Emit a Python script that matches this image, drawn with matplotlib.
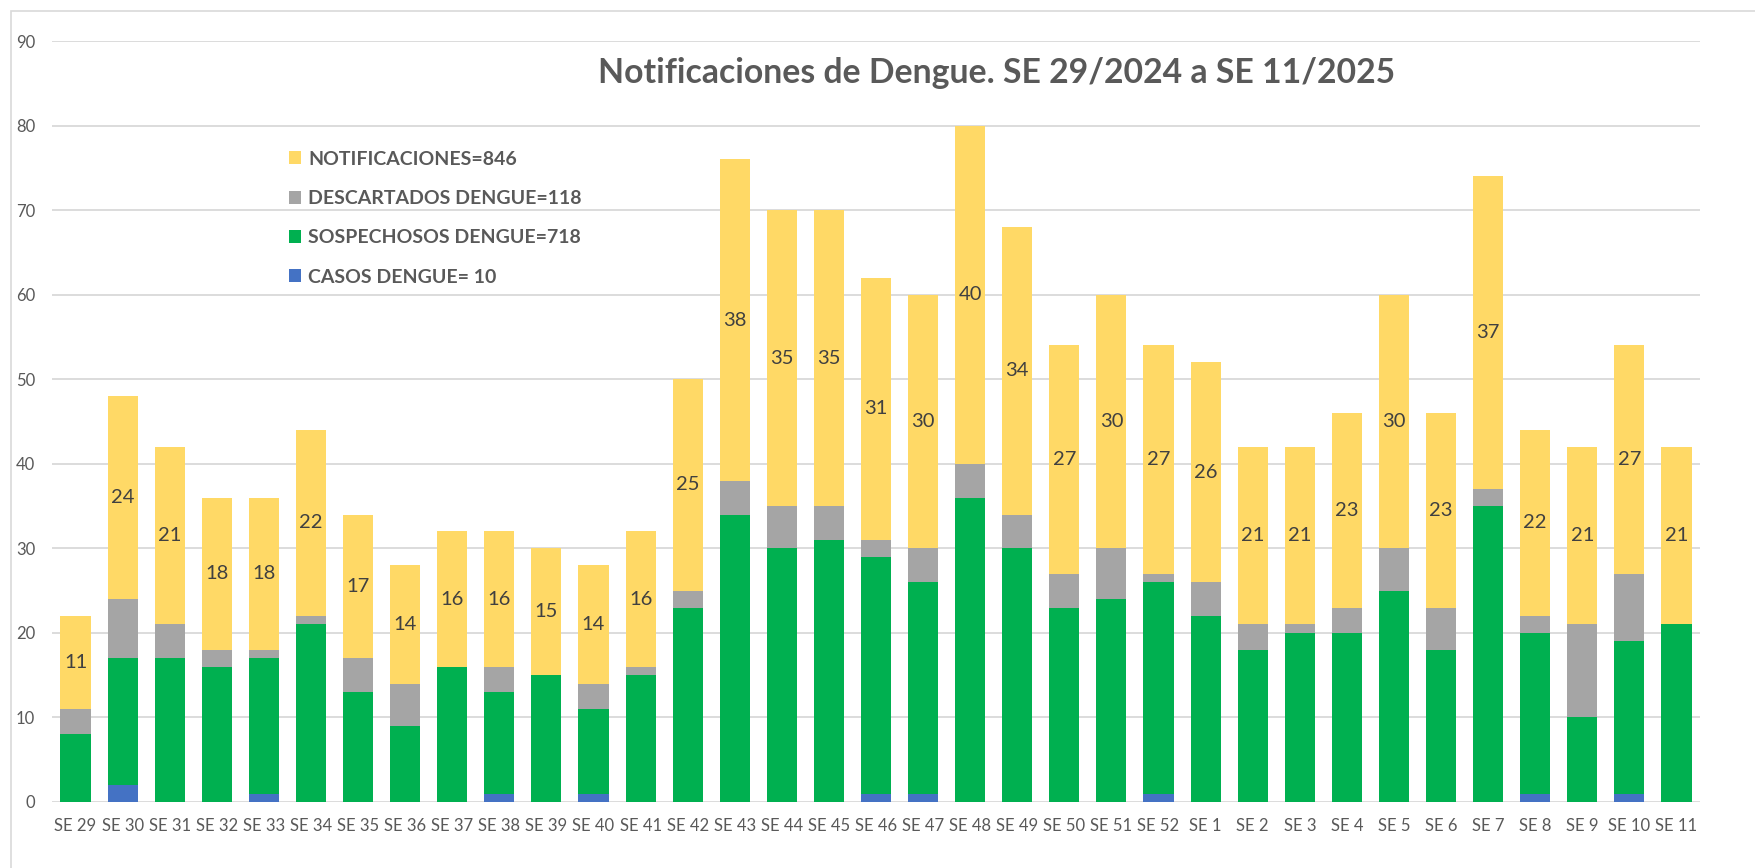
import numpy as np
import matplotlib.pyplot as plt
from matplotlib.patches import Rectangle

plt.rcParams['font.family'] = ['Lato', 'DejaVu Sans']

semanas = ['SE 29', 'SE 30', 'SE 31', 'SE 32', 'SE 33', 'SE 34', 'SE 35', 'SE 36',
           'SE 37', 'SE 38', 'SE 39', 'SE 40', 'SE 41', 'SE 42', 'SE 43', 'SE 44',
           'SE 45', 'SE 46', 'SE 47', 'SE 48', 'SE 49', 'SE 50', 'SE 51', 'SE 52',
           'SE 1', 'SE 2', 'SE 3', 'SE 4', 'SE 5', 'SE 6', 'SE 7', 'SE 8', 'SE 9',
           'SE 10', 'SE 11']
casos = [0, 2, 0, 0, 1, 0, 0, 0, 0, 1, 0, 1, 0, 0, 0, 0, 0, 1, 1, 0, 0, 0, 0, 1,
         0, 0, 0, 0, 0, 0, 0, 1, 0, 1, 0]
sospechosos = [8, 15, 17, 16, 16, 21, 13, 9, 16, 12, 15, 10, 15, 23, 34, 30, 31, 28,
               25, 36, 30, 23, 24, 25, 22, 18, 20, 20, 25, 18, 35, 19, 10, 18, 21]
descartados = [3, 7, 4, 2, 1, 1, 4, 5, 0, 3, 0, 3, 1, 2, 4, 5, 4, 2, 4, 4, 4, 4, 6, 1,
               4, 3, 1, 3, 5, 5, 2, 2, 11, 8, 0]
notificaciones = [11, 24, 21, 18, 18, 22, 17, 14, 16, 16, 15, 14, 16, 25, 38, 35, 35,
                  31, 30, 40, 34, 27, 30, 27, 26, 21, 21, 23, 30, 23, 37, 22, 21, 27, 21]

C_AMARILLO = "#FFD966"
C_GRIS = "#A5A5A5"
C_VERDE = "#00B050"
C_AZUL = "#4472C4"
C_TEXTO = "#595959"

W, H = 1756, 868
fig = plt.figure(figsize=(W / 100, H / 100), dpi=100)
ax = fig.add_axes([52 / W, 1 - 802 / H, 1648 / W, 761 / H])

x = np.arange(len(semanas))
b1 = np.array(casos)
b2 = b1 + np.array(sospechosos)
b3 = b2 + np.array(descartados)

ancho = 0.64
ax.bar(x, casos, ancho, color=C_AZUL, label="CASOS DENGUE= 10", zorder=3)
ax.bar(x, sospechosos, ancho, bottom=b1, color=C_VERDE, label="SOSPECHOSOS DENGUE=718", zorder=3)
ax.bar(x, descartados, ancho, bottom=b2, color=C_GRIS, label="DESCARTADOS DENGUE=118", zorder=3)
ax.bar(x, notificaciones, ancho, bottom=b3, color=C_AMARILLO, label="NOTIFICACIONES=846", zorder=3)

# etiqueta en el centro del tramo amarillo
for i, n in enumerate(notificaciones):
    ax.text(x[i], b3[i] + n / 2, str(n), ha="center", va="center",
            fontsize=14.5, color="#404040", zorder=4)

ax.set_xlim(-0.5, len(semanas) - 0.5)
ax.set_ylim(0, 90)
ax.set_yticks(range(0, 91, 10))
ax.set_xticks(x)
ax.set_xticklabels(semanas)
ax.tick_params(axis="both", length=0, labelsize=12, labelcolor=C_TEXTO)
ax.tick_params(axis="x", pad=11.5)
ax.tick_params(axis="y", pad=12)
ax.grid(axis="y", color="#D9D9D9", lw=1.3, zorder=0)
for s in ax.spines.values():
    s.set_visible(False)

handles, labels = ax.get_legend_handles_labels()
leg = ax.legend(handles[::-1], labels[::-1], loc="upper left",
                bbox_to_anchor=(279 / W, 1 - 141 / H), bbox_transform=fig.transFigure,
                frameon=False, borderpad=0, handlelength=0.65, handleheight=0.65,
                handletextpad=0.35, labelspacing=1.15,
                prop={"size": 14, "weight": "bold"})
for t in leg.get_texts():
    t.set_color(C_TEXTO)

fig.text(997 / W, 1 - 83 / H, "Notificaciones de Dengue. SE 29/2024 a SE 11/2025",
         ha="center", va="baseline", fontsize=24.3, fontweight="bold", color=C_TEXTO)

# marco exterior (solo se ven los bordes superior e izquierdo)
fig.patches.append(Rectangle((11 / W, -0.1), 1.2, 1.1 - 11 / H,
                             transform=fig.transFigure, fill=False,
                             edgecolor="#D9D9D9", lw=1.2))

fig.savefig("out.png", dpi=100)
